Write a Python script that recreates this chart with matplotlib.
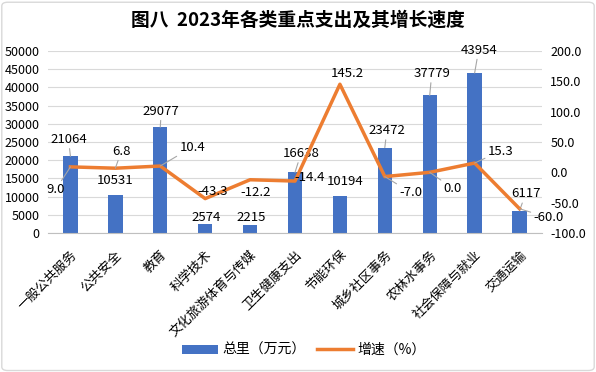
import matplotlib
matplotlib.use("Agg")
import matplotlib.pyplot as plt
from matplotlib.patches import FancyBboxPatch, Patch
from matplotlib.lines import Line2D
import numpy as np

plt.rcParams['font.family'] = ['Noto Sans CJK SC', 'DejaVu Sans']

categories = ["一般公共服务", "公共安全", "教育", "科学技术", "文化旅游体育与传媒",
              "卫生健康支出", "节能环保", "城乡社区事务", "农林水事务", "社会保障与就业", "交通运输"]
totals = [21064, 10531, 29077, 2574, 2215, 16638, 10194, 23472, 37779, 43954, 6117]
growth = [9.0, 6.8, 10.4, -43.3, -12.2, -14.4, 145.2, -7.0, 0.0, 15.3, -60.0]
title = "图八  2023年各类重点支出及其增长速度"
legend_labels = ["总里（万元）", "增速（%）"]

# label offsets in pixels (dx, dy up), and whether a leader line is drawn
bar_off = [(-2, 17), (0, 14), (1, 16), (1, 6), (1, 7), (6, 19), (5, 14), (2, 17), (2, 22), (4, 23), (6, 17)]
bar_lead = [True, False, True, False, False, True, False, True, True, True, True]
line_off = [(-15, -23), (6, 17), (32, 19), (7, 7), (6, -13), (15, 4), (7, 11), (26, -16), (23, -16), (26, 12), (29, -9)]
line_lead = [True, True, True, False, False, False, False, True, True, True, True]

W, H = 596, 372
fig = plt.figure(figsize=(W / 100, H / 100), dpi=100)
fig.patches.append(FancyBboxPatch((0.003, 0.004), 0.994, 0.99, boxstyle="round,pad=0,rounding_size=0.01",
                                  transform=fig.transFigure, fill=False, edgecolor="#D9D9D9", linewidth=1))

ax = fig.add_axes([48 / W, 1 - 233 / H, (542 - 48) / W, (233 - 51) / H])
ax2 = ax.twinx()

x = np.arange(len(categories))
bar_color = "#4472C4"
line_color = "#ED7D31"
ax.bar(x, totals, width=0.32, color=bar_color, zorder=2)
ax2.plot(x, growth, color=line_color, linewidth=2.5, zorder=3)

ax.set_xlim(-0.5, len(categories) - 0.5)
ax.set_ylim(0, 50000)
ax.set_yticks(np.arange(0, 50001, 5000))
ax2.set_ylim(-100, 200)
ax2.set_yticks(np.arange(-100, 201, 50))
ax2.set_yticklabels([f"{v:.1f}" for v in np.arange(-100, 201, 50)])

ax.grid(axis='y', color="#D9D9D9", linewidth=0.8, zorder=0)
ax.set_axisbelow(True)
for a in (ax, ax2):
    for s in a.spines.values():
        s.set_visible(False)
    a.tick_params(length=0, labelsize=9, colors="#000000")
ax.spines['bottom'].set_visible(True)
ax.spines['bottom'].set_color("#BFBFBF")
ax.tick_params(axis='y', pad=6)
ax2.tick_params(axis='y', pad=6)

ax.set_xticks(x)
ax.set_xticklabels(categories, rotation=45, ha='right', rotation_mode='anchor', fontsize=9.3)
ax.tick_params(axis='x', pad=11)

k = 0.72
for i, v in enumerate(totals):
    dx, dy = bar_off[i]
    ap = dict(arrowstyle='-', color='#A6A6A6', lw=0.8, shrinkA=0, shrinkB=0) if bar_lead[i] else None
    ax.annotate(str(v), xy=(x[i], v), xytext=(dx * k, dy * k), textcoords='offset points',
                ha='center', va='center', fontsize=9.5, arrowprops=ap, zorder=5,
                annotation_clip=False)
for i, v in enumerate(growth):
    dx, dy = line_off[i]
    ap = dict(arrowstyle='-', color='#A6A6A6', lw=0.8, shrinkA=0, shrinkB=0) if line_lead[i] else None
    ax2.annotate(f"{v:.1f}", xy=(x[i], v), xytext=(dx * k, dy * k), textcoords='offset points',
                 ha='center', va='center', fontsize=9.5, arrowprops=ap, zorder=5,
                 annotation_clip=False)

fig.text(0.5, 1 - 20 / H, title, ha='center', va='center', fontsize=13.5, fontweight='bold')

handles = [Patch(facecolor=bar_color), Line2D([0], [0], color=line_color, lw=2.5)]
fig.legend(handles, legend_labels, loc='center', bbox_to_anchor=(0.51, 1 - 350 / H), ncol=2,
           frameon=False, fontsize=10, handlelength=2.6, handleheight=0.6, columnspacing=0.8, handletextpad=0.3)

fig.savefig("out.png", dpi=100, facecolor="white")
